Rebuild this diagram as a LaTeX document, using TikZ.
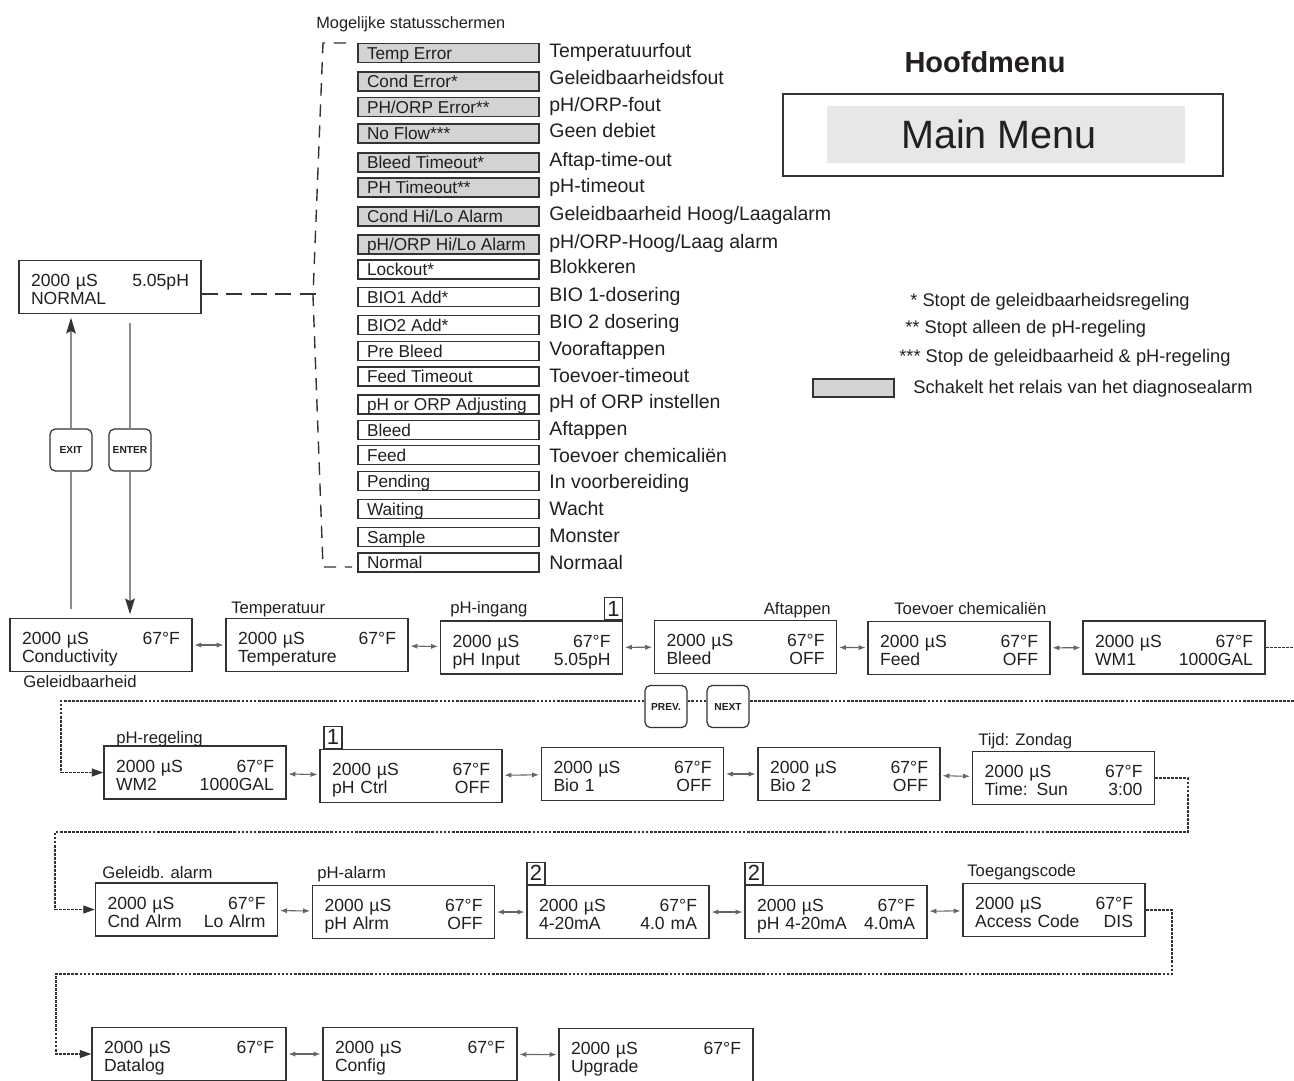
\documentclass[tikz,border=0pt]{standalone}
\usepackage{fontspec}
\setmainfont{Liberation Sans}
\usetikzlibrary{arrows.meta,positioning}

\definecolor{inkc}{HTML}{231F20}
\definecolor{linec}{HTML}{333333}
\definecolor{statgrey}{HTML}{D1D3D4}
\definecolor{menugrey}{HTML}{E6E7E8}
\definecolor{wirec}{HTML}{8C8C8C}

% status text, left aligned in a fixed box
\newcommand{\stxt}[1]{\makebox[3.26cm][l]{#1}}

\tikzset{
  lcd/.style={draw=linec, line width=0.8pt, fill=white, minimum width=3.64cm, minimum height=1.06cm,
    text width=3.16cm, inner xsep=0.24cm, inner ysep=0pt, align=left, text height=7.3pt, text depth=7.8pt,
    font=\fontsize{10}{10.2}\selectfont, text=inkc},
  widelcd/.style={lcd, minimum width=3.88cm, text width=3.4cm},
  stat/.style={draw=linec, line width=0.8pt, minimum width=3.62cm, minimum height=0.38cm,
    inner xsep=0.18cm, inner ysep=0pt, text height=7pt, text depth=0pt,
    font=\fontsize{9.8}{10}\selectfont, text=inkc},
  desc/.style={anchor=base west, inner sep=0pt, font=\fontsize{11.1}{12}\selectfont, text=inkc},
  lbl/.style={anchor=base west, inner sep=0pt, font=\fontsize{9.5}{11}\selectfont, text=inkc},
  legtxt/.style={anchor=base west, inner sep=0pt, font=\fontsize{10.4}{12}\selectfont, text=inkc},
  num/.style={draw=linec, line width=0.7pt, minimum width=0.36cm, minimum height=0.44cm, inner sep=0pt,
    font=\fontsize{12.5}{12.5}\selectfont, text=inkc},
  btn/.style={draw=linec, line width=0.7pt, rounded corners=3pt, fill=white, minimum width=0.84cm,
    minimum height=0.84cm, inner sep=0pt, font=\bfseries\fontsize{5.8}{6}\selectfont, text=inkc},
  dbl/.style={{Latex[length=4pt,width=3pt]}-{Latex[length=4pt,width=3pt]}, draw=linec!75, line width=0.6pt,
    shorten <=1pt, shorten >=1pt},
  wire/.style={draw=wirec, line width=0.75pt},
  wireto/.style={wire, -{Stealth[length=9pt,width=5.5pt,inset=1.5pt,color=linec]}, shorten >=2pt},
  wrapline/.style={draw=linec, line width=0.65pt, dash pattern=on 1.6pt off 0.7pt},
  wrapto/.style={wrapline, -{Triangle[length=6.5pt,width=4.5pt]}},
  bracket/.style={draw=linec, line width=0.8pt, dash pattern=on 7pt off 5pt},
}

\begin{document}
\begin{tikzpicture}[x=0.02cm, y=-0.02cm]
\useasboundingbox (0,0) rectangle (1294,1080);

% main menu
\node[anchor=base, inner sep=0pt, font=\bfseries\fontsize{16.5}{18}\selectfont, text=inkc] (hoofd) at (985,72) {Hoofdmenu};
\node[draw=linec, line width=0.8pt, minimum width=8.8cm, minimum height=1.64cm] (mmframe) at (1003,135) {};
\node[fill=menugrey, minimum width=7.16cm, minimum height=1.14cm] (mmfill) at (1006,134.5) {};
\node[inner sep=0pt, font=\fontsize{22.5}{24}\selectfont, text=inkc] (mm) at (999,134.5) {Main Menu};

% legend
\node[legtxt] (leg1) at (910,306) {* Stopt de geleidbaarheidsregeling};
\node[legtxt] (leg2) at (905,333) {** Stopt alleen de pH-regeling};
\node[legtxt] (leg3) at (899,362) {*** Stop de geleidbaarheid \& pH-regeling};
\node[draw=linec, line width=0.8pt, fill=statgrey, minimum width=1.62cm, minimum height=0.36cm, inner sep=0pt] (legbox) at (853.5,388) {};
\node[legtxt] (leg4) at (913,393) {Schakelt het relais van het diagnosealarm};

% possible status screens
\node[lbl, font=\fontsize{9.3}{11}\selectfont] (sttitle) at (316,28) {Mogelijke statusschermen};
\node[stat, fill=statgrey] (st1) at (448.5,53) {\stxt{Temp Error}};
\node[desc] at (549,57) {Temperatuurfout};
\node[stat, fill=statgrey] (st2) at (448.5,81.5) {\stxt{Cond Error*}};
\node[desc] at (549,84) {Geleidbaarheidsfout};
\node[stat, fill=statgrey] (st3) at (448.5,107) {\stxt{PH/ORP Error**}};
\node[desc] at (549,111) {pH/ORP-fout};
\node[stat, fill=statgrey] (st4) at (448.5,133.5) {\stxt{No Flow***}};
\node[desc] at (549,137) {Geen debiet};
\node[stat, fill=statgrey] (st5) at (448.5,162.5) {\stxt{Bleed Timeout*}};
\node[desc] at (549,166) {Aftap-time-out};
\node[stat, fill=statgrey] (st6) at (448.5,187.5) {\stxt{PH Timeout**}};
\node[desc] at (549,192) {pH-timeout};
\node[stat, fill=statgrey] (st7) at (448.5,216.5) {\stxt{Cond Hi/Lo Alarm}};
\node[desc] at (549,220) {Geleidbaarheid Hoog/Laagalarm};
\node[stat, fill=statgrey] (st8) at (448.5,244.5) {\stxt{pH/ORP Hi/Lo Alarm}};
\node[desc] at (549,248) {pH/ORP-Hoog/Laag alarm};
\node[stat] (st9) at (448.5,269.5) {\stxt{Lockout*}};
\node[desc] at (549,273) {Blokkeren};
\node[stat] (st10) at (448.5,297) {\stxt{BIO1 Add*}};
\node[desc] at (549,301) {BIO 1-dosering};
\node[stat] (st11) at (448.5,325) {\stxt{BIO2 Add*}};
\node[desc] at (549,328) {BIO 2 dosering};
\node[stat] (st12) at (448.5,351) {\stxt{Pre Bleed}};
\node[desc] at (549,355) {Vooraftappen};
\node[stat] (st13) at (448.5,376.5) {\stxt{Feed Timeout}};
\node[desc] at (549,382) {Toevoer-timeout};
\node[stat] (st14) at (448.5,404.5) {\stxt{pH or ORP Adjusting}};
\node[desc] at (549,408) {pH of ORP instellen};
\node[stat] (st15) at (448.5,430) {\stxt{Bleed}};
\node[desc] at (549,435) {Aftappen};
\node[stat] (st16) at (448.5,455) {\stxt{Feed}};
\node[desc] at (549,462) {Toevoer chemicaliën};
\node[stat] (st17) at (448.5,481) {\stxt{Pending}};
\node[desc] at (549,488) {In voorbereiding};
\node[stat] (st18) at (448.5,509) {\stxt{Waiting}};
\node[desc] at (549,515) {Wacht};
\node[stat] (st19) at (448.5,537) {\stxt{Sample}};
\node[desc] at (549,542) {Monster};
\node[stat] (st20) at (448.5,562.5) {\stxt{Normal}};
\node[desc] at (549,569) {Normaal};

% bracket round the list
\draw[bracket] (346,43) -- (323,43) -- (313,296) -- (323,567) -- (352,567);
\coordinate (brk) at (318,294);

% normal screen and keys
\node[lcd] (status) at (110,287) {2000 µS\hfill 5.05pH\\NORMAL};
\draw[bracket, dash pattern=on 9pt off 5pt] (status.east |- brk) -- (brk);

% row 1
\node[lcd] (cond) at (101,645) {2000 µS\hfill 67°F\\Conductivity};
\node[lcd] (temp) at (317,645) {2000 µS\hfill 67°F\\Temperature};
\node[lcd] (phin) at (531.5,647.5) {2000 µS\hfill 67°F\\pH Input\hfill 5.05pH};
\node[lcd] (bleed) at (745.5,647) {2000 µS\hfill 67°F\\Bleed\hfill OFF};
\node[lcd] (feed) at (959,648) {2000 µS\hfill 67°F\\Feed\hfill OFF};
\node[lcd] (wm1) at (1174,647.5) {2000 µS\hfill 67°F\\WM1\hfill 1000GAL};
\node[lbl] at (23,687) {Geleidbaarheid};
\node[lbl] at (231,613) {Temperatuur};
\node[lbl] at (450,613) {pH-ingang};
\node[lbl, anchor=base east] at (831,614) {Aftappen};
\node[lbl] at (894,614) {Toevoer chemicaliën};
\node[num, anchor=south east] (n1a) at (phin.north east) {1};

% row 2
\node[lcd] (wm2) at (195,772.5) {2000 µS\hfill 67°F\\WM2\hfill 1000GAL};
\node[lcd] (phctrl) at (411,776) {2000 µS\hfill 67°F\\pH Ctrl\hfill OFF};
\node[lcd] (bio1) at (632.5,774) {2000 µS\hfill 67°F\\Bio 1\hfill OFF};
\node[lcd] (bio2) at (849,774) {2000 µS\hfill 67°F\\Bio 2\hfill OFF};
\node[lcd] (time) at (1063.5,778) {2000 µS\hfill 67°F\\Time: Sun\hfill 3:00};
\node[lbl] at (116,743) {pH-regeling};
\node[lbl] at (978,745) {Tijd: Zondag};
\node[num, anchor=south west] (n1b) at ([xshift=0.08cm]phctrl.north west) {1};

% row 3
\node[lcd] (cndalrm) at (186.5,909.5) {2000 µS\hfill 67°F\\Cnd Alrm\hfill Lo Alrm};
\node[lcd] (phalrm) at (403.5,912) {2000 µS\hfill 67°F\\pH Alrm\hfill OFF};
\node[lcd] (ma) at (618,912) {2000 µS\hfill 67°F\\4-20mA\hfill 4.0 mA};
\node[lcd] (phma) at (836,912) {2000 µS\hfill 67°F\\pH 4-20mA\hfill 4.0mA};
\node[lcd] (access) at (1054,910) {2000 µS\hfill 67°F\\Access Code\hfill DIS};
\node[lbl] at (102,878) {Geleidb. alarm};
\node[lbl] at (317,878) {pH-alarm};
\node[lbl] at (967,876) {Toegangscode};
\node[num, anchor=south west] (n2a) at (ma.north west) {2};
\node[num, anchor=south west] (n2b) at (phma.north west) {2};

% row 4
\node[widelcd] (datalog) at (189,1054) {2000 µS\hfill 67°F\\Datalog};
\node[widelcd] (config) at (420,1054) {2000 µS\hfill 67°F\\Config};
\node[widelcd] (upgrade) at (656,1055) {2000 µS\hfill 67°F\\Upgrade};

% keys
\node[btn] (exitb) at (71,450) {EXIT};
\node[btn] (enterb) at (130,450) {ENTER};
\node[btn] (prevb) at (666,706.5) {PREV.};
\node[btn] (nextb) at (728,706.5) {NEXT};

% exit / enter
\draw[wire, shorten <=5pt] (cond.north -| exitb) -- (exitb);
\draw[wireto] (exitb) -- (exitb |- status.south);
\draw[wire, shorten <=5pt] (enterb |- status.south) -- (enterb);
\draw[wireto] (enterb) -- (enterb |- cond.north);

% scrolling between screens
\draw[dbl] (cond) -- (temp);
\draw[dbl] (temp) -- (phin);
\draw[dbl] (phin) -- (bleed);
\draw[dbl] (bleed) -- (feed);
\draw[dbl] (feed) -- (wm1);
\draw[dbl] (wm2) -- (phctrl);
\draw[dbl] (phctrl) -- (bio1);
\draw[dbl] (bio1) -- (bio2);
\draw[dbl] (bio2) -- (time);
\draw[dbl] (cndalrm) -- (phalrm);
\draw[dbl] (phalrm) -- (ma);
\draw[dbl] (ma) -- (phma);
\draw[dbl] (phma) -- (access);
\draw[dbl] (datalog) -- (config);
\draw[dbl] (config) -- (upgrade);

% wrap to next row
\coordinate (wrapA) at (1294,647.5);
\coordinate (wrapB) at (1294,701);
\coordinate (bendB) at (61,701);
\coordinate (bendC) at (1188,832);
\coordinate (bendD) at (55,832);
\coordinate (bendE) at (1172,974);
\coordinate (bendF) at (56,974);
\draw[wrapline] (wm1.east) -- (wrapA);
\draw[wrapline] (wrapB) -- (wrapB -| nextb.east);
\draw[wrapline] (nextb.west |- wrapB) -- (wrapB -| prevb.east);
\draw[wrapto] (prevb.west |- wrapB) -- (bendB) -- (bendB |- wm2) -- (wm2.west);
\draw[wrapto] (time.east) -- (time.east -| bendC) -- (bendC) -- (bendD) -- (bendD |- cndalrm) -- (cndalrm.west);
\draw[wrapto] (access.east) -- (access.east -| bendE) -- (bendE) -- (bendF) -- (bendF |- datalog) -- (datalog.west);
\end{tikzpicture}
\end{document}
